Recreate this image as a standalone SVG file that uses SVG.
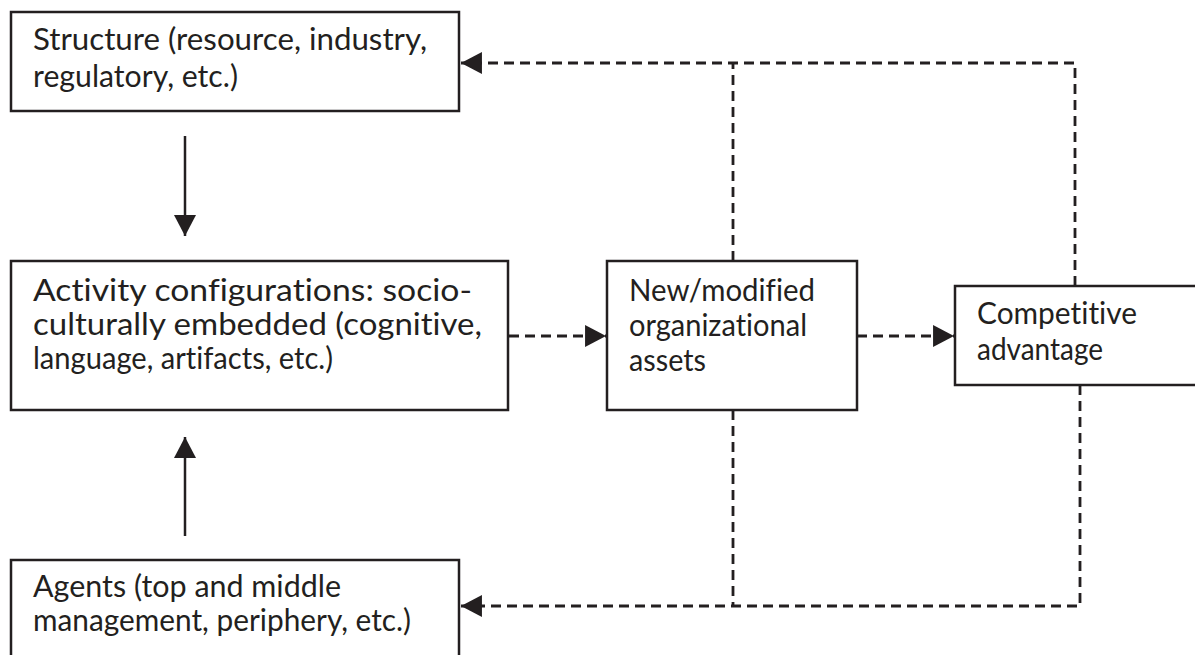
<svg xmlns="http://www.w3.org/2000/svg" width="1195" height="655" viewBox="0 0 1195 655">
  <style>
    .box { fill: #ffffff; stroke: #231f20; stroke-width: 2.5; }
    .lbl { font-family: Lato, "Liberation Sans", sans-serif; font-size: 30px; fill: #231f20; font-variant-ligatures: none; }
    .solid { fill: none; stroke: #231f20; stroke-width: 2.5; }
    .dash { fill: none; stroke: #231f20; stroke-width: 2.8; stroke-dasharray: 10 6; }
  </style>
  <defs>
    <marker id="ah" markerUnits="userSpaceOnUse" markerWidth="22" markerHeight="22" viewBox="0 0 20 21" refX="20" refY="10.5" orient="auto">
      <path d="M0,0 L20,10.5 L0,21 Z" fill="#231f20"/>
    </marker>
  </defs>
  <rect width="1195" height="655" fill="#ffffff"/>

  <g id="connectors">
    <line class="solid" x1="185" y1="136" x2="185" y2="236" marker-end="url(#ah)"/>
    <line class="solid" x1="185" y1="536" x2="185" y2="437" marker-end="url(#ah)"/>
    <line class="dash" x1="509" y1="336" x2="606" y2="336" marker-end="url(#ah)"/>
    <line class="dash" x1="857" y1="336" x2="954" y2="336" marker-end="url(#ah)"/>
    <path class="dash" d="M733,261 V63"/>
    <path class="dash" d="M1075,286 V63 H461" marker-end="url(#ah)"/>
    <path class="dash" d="M733,410 V606"/>
    <path class="dash" d="M1080,385 V606 H461" marker-end="url(#ah)"/>
  </g>

  <g id="structure">
    <rect class="box" x="11" y="12" width="448" height="99"/>
    <text class="lbl" x="33" y="50" textLength="394" lengthAdjust="spacingAndGlyphs">Structure (resource, industry,</text>
    <text class="lbl" x="33" y="87" textLength="205" lengthAdjust="spacingAndGlyphs">regulatory, etc.)</text>
  </g>

  <g id="activity">
    <rect class="box" x="11" y="261" width="497" height="149"/>
    <text class="lbl" x="33" y="301" textLength="439" lengthAdjust="spacingAndGlyphs">Activity configurations: socio-</text>
    <text class="lbl" x="33" y="335" textLength="449" lengthAdjust="spacingAndGlyphs">culturally embedded (cognitive,</text>
    <text class="lbl" x="33" y="369" textLength="300" lengthAdjust="spacingAndGlyphs">language, artifacts, etc.)</text>
  </g>

  <g id="assets">
    <rect class="box" x="607" y="261" width="250" height="149"/>
    <text class="lbl" x="629" y="301" textLength="186" lengthAdjust="spacingAndGlyphs">New/modified</text>
    <text class="lbl" x="629" y="336" textLength="178" lengthAdjust="spacingAndGlyphs">organizational</text>
    <text class="lbl" x="629" y="371" textLength="77" lengthAdjust="spacingAndGlyphs">assets</text>
  </g>

  <g id="advantage">
    <rect class="box" x="955" y="286" width="245" height="99"/>
    <text class="lbl" x="977" y="324" textLength="160" lengthAdjust="spacingAndGlyphs">Competitive</text>
    <text class="lbl" x="977" y="360" textLength="126" lengthAdjust="spacingAndGlyphs">advantage</text>
  </g>

  <g id="agents">
    <rect class="box" x="11" y="560" width="448" height="110"/>
    <text class="lbl" x="33" y="597" textLength="308" lengthAdjust="spacingAndGlyphs">Agents (top and middle</text>
    <text class="lbl" x="33" y="631" textLength="378" lengthAdjust="spacingAndGlyphs">management, periphery, etc.)</text>
  </g>
</svg>
